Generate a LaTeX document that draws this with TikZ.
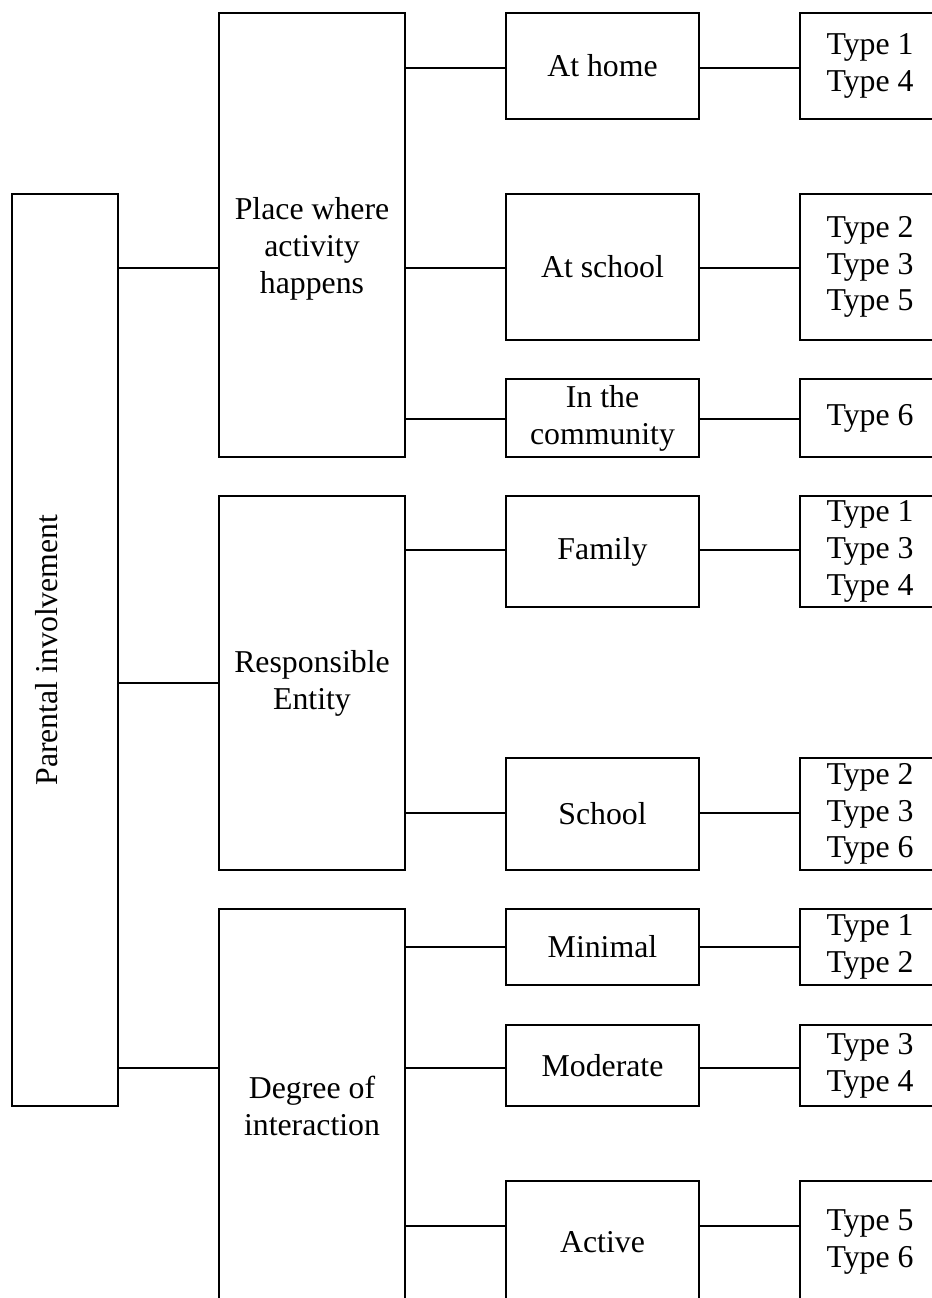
\documentclass[tikz,border=0pt]{standalone}
\usepackage{fontspec}
\setmainfont{Liberation Serif}
\tikzset{
  lbl/.style={inner sep=0pt, align=center, font=\fontsize{15.9}{18.4}\selectfont},
  box/.style={lbl, draw, line width=0.75pt},
  conn/.style={line width=0.75pt},
  lvtwo/.style={box, minimum width=93pt},
  lvthree/.style={box, minimum width=96.5pt},
  lvfour/.style={box, minimum width=70pt},
}
\begin{document}
\begin{tikzpicture}[x=0.5pt,y=-0.5pt]
\useasboundingbox (0,0) rectangle (932,1298);
\clip (0,0) rectangle (932,1298);
% level 1
\node[box, minimum width=53pt, minimum height=456pt] (pi) at (65,650) {};
\node[lbl, rotate=90, anchor=base] (pitext) at (57,650) {Parental involvement};
% level 2
\node[lvtwo, minimum height=222pt] (place) at (312,235) {};
\node[lbl] (placetext) at (312,249) {Place where\\activity\\happens};
\node[lvtwo, minimum height=187pt] (resp) at (312,683) {Responsible\\Entity};
\node[lvtwo, minimum height=197pt] (degree) at (312,1106) {Degree of\\interaction};
% level 3
\node[lvthree, minimum height=53pt] (home) at (602.5,66) {At home};
\node[lvthree, minimum height=73pt] (atschool) at (602.5,267) {At school};
\node[lvthree, minimum height=39pt] (community) at (602.5,418) {In the\\community};
\node[lvthree, minimum height=55.5pt] (family) at (602.5,551.5) {Family};
\node[lvthree, minimum height=56pt] (school) at (602.5,814) {School};
\node[lvthree, minimum height=38pt] (minimal) at (602.5,947) {Minimal};
\node[lvthree, minimum height=40.5pt] (moderate) at (602.5,1065.5) {Moderate};
\node[lvthree, minimum height=61pt] (active) at (602.5,1242) {Active};
% level 4
\node[lvfour, minimum height=53pt] (ta) at (870,66) {Type 1\\Type 4};
\node[lvfour, minimum height=73pt] (tb) at (870,267) {Type 2\\Type 3\\Type 5};
\node[lvfour, minimum height=39pt] (tc) at (870,418) {Type 6};
\node[lvfour, minimum height=55.5pt] (td) at (870,551.5) {Type 1\\Type 3\\Type 4};
\node[lvfour, minimum height=56pt] (te) at (870,814) {Type 2\\Type 3\\Type 6};
\node[lvfour, minimum height=38pt] (tf) at (870,947) {Type 1\\Type 2};
\node[lvfour, minimum height=40.5pt] (tg) at (870,1065.5) {Type 3\\Type 4};
\node[lvfour, minimum height=61pt] (th) at (870,1242) {Type 5\\Type 6};
% connector heights
\coordinate (ya) at (0,68);
\coordinate (yb) at (0,268);
\coordinate (yc) at (0,419);
\coordinate (yd) at (0,550);
\coordinate (ye) at (0,813);
\coordinate (yf) at (0,947);
\coordinate (yg) at (0,1068);
\coordinate (yh) at (0,1226);
\coordinate (yr) at (0,683);
% level 1 -> level 2
\draw[conn] (pi.east |- yb) -- (place.west |- yb);
\draw[conn] (pi.east |- yr) -- (resp.west |- yr);
\draw[conn] (pi.east |- yg) -- (degree.west |- yg);
% level 2 -> 3 -> 4
\foreach \p/\q/\r/\y in {place/home/ta/ya, place/atschool/tb/yb, place/community/tc/yc,
  resp/family/td/yd, resp/school/te/ye,
  degree/minimal/tf/yf, degree/moderate/tg/yg, degree/active/th/yh}{
  \draw[conn] (\p.east |- \y) -- (\q.west |- \y);
  \draw[conn] (\q.east |- \y) -- (\r.west |- \y);
}
\end{tikzpicture}
\end{document}
